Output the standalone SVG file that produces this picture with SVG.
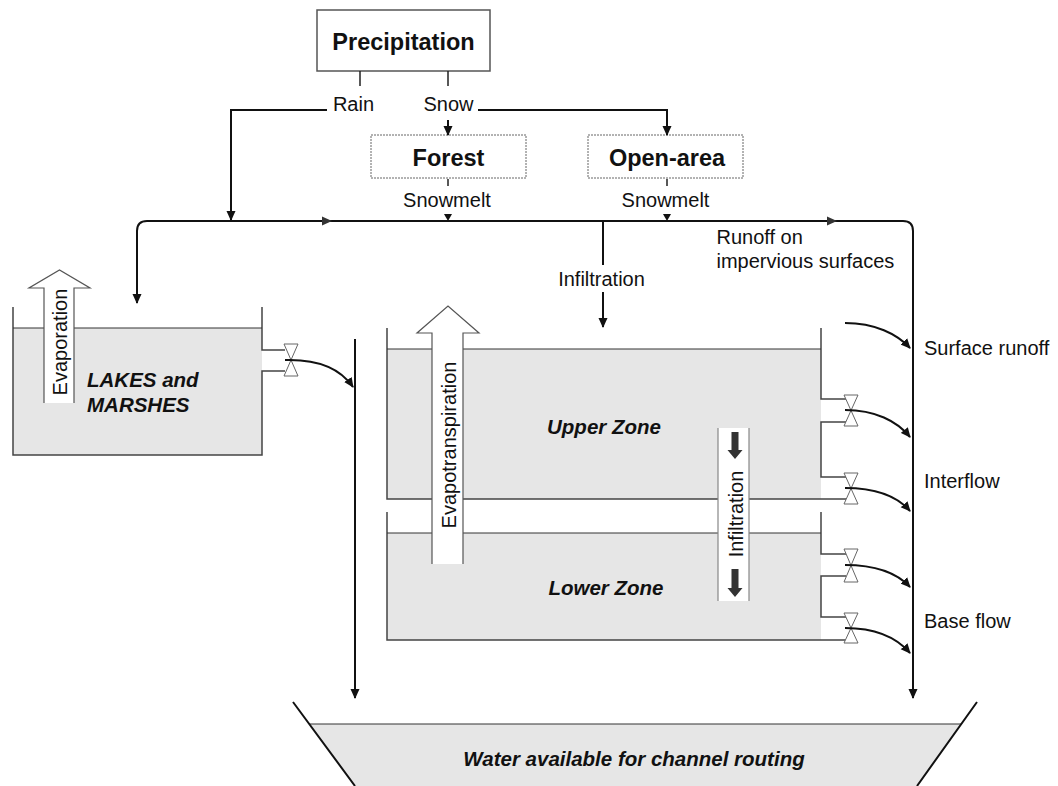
<svg xmlns="http://www.w3.org/2000/svg" width="1058" height="786" viewBox="0 0 1058 786">
<defs>
<style>
text{font-family:"Liberation Sans",Arial,sans-serif;fill:#111}
.lbl{font-size:20px}
.ttl{font-size:23.5px;font-weight:bold}
.bi{font-size:20.5px;font-weight:bold;font-style:italic}
.box{fill:#fff;stroke:#555;stroke-width:1.5}
.dbox{fill:#fff;stroke:#666;stroke-width:1;stroke-dasharray:2 1}
.wall{fill:none;stroke:#444;stroke-width:1.5}
.lvl{fill:none;stroke:#333;stroke-width:1}
.water{fill:#e6e6e6;stroke:none}
.flow{fill:none;stroke:#111;stroke-width:2}
.tick{fill:none;stroke:#222;stroke-width:1.5}
.valve{fill:#fff;stroke:#666;stroke-width:1}
.hollow{fill:#fff;stroke:#555;stroke-width:1.2}
</style>
<marker id="ah" viewBox="0 0 10 10" refX="9" refY="5" markerWidth="10" markerHeight="10" markerUnits="userSpaceOnUse" orient="auto"><path d="M0,0.5 L10,5 L0,9.5 Z" fill="#111"/></marker>
</defs>

<g id="precipitation">
<rect class="box" x="317" y="10" width="173" height="61"/>
<text class="ttl" x="403.5" y="50" text-anchor="middle">Precipitation</text>
</g>

<g id="forest">
<rect class="dbox" x="371" y="135" width="155" height="43"/>
<text class="ttl" x="448.5" y="166" text-anchor="middle">Forest</text>
</g>

<g id="open-area">
<rect class="dbox" x="588" y="135" width="155" height="43"/>
<text class="ttl" x="667" y="166" text-anchor="middle">Open-area</text>
</g>

<g id="lakes">
<rect class="water" x="13" y="328" width="249" height="127"/>
<path class="wall" d="M13,307 V455 H262 V371 H285 M285,350 H262 V307"/>
<path class="lvl" d="M13,328 H262"/>
<path d="M44,403 V288 H29 L59.5,270 L90,288 H74 V403 Z" fill="#fff"/>
<path class="hollow" d="M44,403 V288 H29 L59.5,270 L90,288 H74 V403" fill="none"/>
<text class="lbl" transform="translate(67,342) rotate(-90)" text-anchor="middle">Evaporation</text>
<text class="bi" x="87" y="386.5">LAKES and</text>
<text class="bi" x="87" y="411.5">MARSHES</text>
<path class="valve" d="M284,344 H298 L284,376 H298 Z"/>
</g>

<g id="upper-zone">
<rect class="water" x="387" y="349" width="434" height="150"/>
<path class="wall" d="M387,328 V499 H846 M821,328 V399 H846 M846,422 H821 V477 H846"/>
<path class="lvl" d="M387,349 H821"/>
<text class="bi" x="604" y="434" text-anchor="middle">Upper Zone</text>
<path class="valve" d="M844,395 H858 L844,426 H858 Z"/>
<path class="valve" d="M844,473 H858 L844,504 H858 Z"/>
</g>

<g id="lower-zone">
<rect class="water" x="387" y="533" width="434" height="107"/>
<path class="wall" d="M387,512 V640 H846 M821,512 V554 H846 M846,576 H821 V617 H846"/>
<path class="lvl" d="M387,533 H821"/>
<text class="bi" x="606" y="595" text-anchor="middle">Lower Zone</text>
<path class="valve" d="M844,549 H858 L844,582 H858 Z"/>
<path class="valve" d="M844,613 H858 L844,643 H858 Z"/>
</g>

<g id="evapotranspiration">
<path d="M432,564 V333 H417 L448,306 L479,333 H463 V564 Z" fill="#fff"/>
<path class="hollow" d="M432,564 V333 H417 L448,306 L479,333 H463 V564" fill="none"/>
<text class="lbl" transform="translate(456,445) rotate(-90)" text-anchor="middle">Evapotranspiration</text>
</g>

<g id="infiltration-zone">
<rect x="718" y="428" width="31" height="173" fill="#fff"/>
<path d="M718,428 V601 M749,428 V601" stroke="#888" stroke-width="1.2" fill="none"/>
<path d="M731.5,432 H738.5 V450 H742.5 L735,459 L727.5,450 H731.5 Z" fill="#333"/>
<path d="M731.5,569 H738.5 V588 H742.5 L735,597 L727.5,588 H731.5 Z" fill="#333"/>
<text class="lbl" transform="translate(742.5,514) rotate(-90)" text-anchor="middle">Infiltration</text>
</g>

<g id="channel">
<path class="water" d="M309,724 H961 L917,786 H355 Z" fill="#e8e8e8"/>
<path class="lvl" d="M309,724 H961" stroke="#555"/>
<path class="flow" d="M293,702 L355,786 M977,702 L917,786" stroke-width="1.5"/>
<text class="bi" x="634" y="766" text-anchor="middle">Water available for channel routing</text>
</g>

<g id="connectors">
<path class="tick" d="M360,71 V86 M448,71 V86 M448,179 V186 M667,179 V186"/>
<path class="flow" stroke="#333" d="M327,110 H231 V220" marker-end="url(#ah)"/>
<path class="flow" d="M448,120 V135" marker-end="url(#ah)"/>
<path class="flow" d="M478,110 H667 V135" marker-end="url(#ah)"/>
<path class="flow" d="M137,303 V231 Q137,221 147,221 H903 Q913,221 913,231 V698" marker-end="url(#ah)"/>
<polygon points="322,216.5 332,221 322,225.5" fill="#333"/>
<polygon points="827,216.5 837,221 827,225.5" fill="#333"/>
<polygon points="444,214 452,214 448,221" fill="#111"/>
<polygon points="663,214 671,214 667,221" fill="#111"/>
<path class="flow" d="M137,240 V303" marker-end="url(#ah)"/>
<path class="flow" d="M603,221 V265 M603,292 V327" marker-end="url(#ah)"/>
<path class="flow" d="M355,339 V698" marker-end="url(#ah)"/>
<path class="flow" d="M285,360 C318,359 340,368 353,387" marker-end="url(#ah)"/>
<path class="flow" d="M845,323 C875,323 897,334 910,348" marker-end="url(#ah)"/>
<path class="flow" d="M845,410 C875,410 897,421 910,437" marker-end="url(#ah)"/>
<path class="flow" d="M845,488 C875,488 897,496 910,511" marker-end="url(#ah)"/>
<path class="flow" d="M845,565 C875,565 897,573 910,587" marker-end="url(#ah)"/>
<path class="flow" d="M845,628 C875,628 897,638 910,653" marker-end="url(#ah)"/>
</g>

<g id="labels">
<text class="lbl" x="353.5" y="110.5" text-anchor="middle">Rain</text>
<text class="lbl" x="448.5" y="110.5" text-anchor="middle">Snow</text>
<text class="lbl" x="447" y="207" text-anchor="middle">Snowmelt</text>
<text class="lbl" x="665.5" y="207" text-anchor="middle">Snowmelt</text>
<text class="lbl" x="601.5" y="286" text-anchor="middle">Infiltration</text>
<text class="lbl" x="716.5" y="244">Runoff on</text>
<text class="lbl" x="716.5" y="267.5">impervious surfaces</text>
<text class="lbl" x="924" y="355">Surface runoff</text>
<text class="lbl" x="924" y="488">Interflow</text>
<text class="lbl" x="924" y="628">Base flow</text>
</g>
</svg>
